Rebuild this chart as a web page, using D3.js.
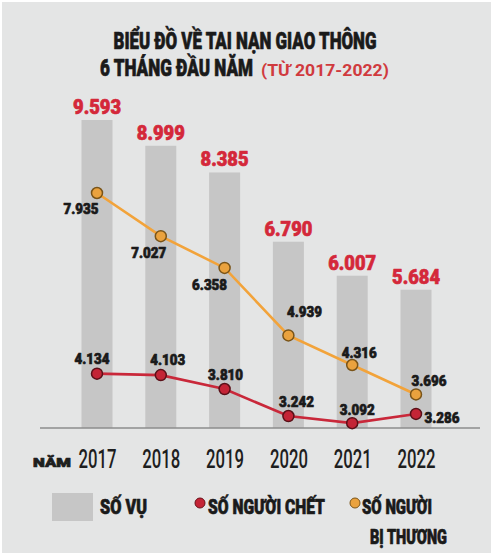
<!DOCTYPE html>
<html>
<head>
<meta charset="utf-8">
<script src="https://cdn.jsdelivr.net/npm/d3@7"></script>
<style>
  html, body { margin: 0; padding: 0; background: #fff; }
  svg { display: block; }
  text { font-family: Roboto, "DejaVu Sans", sans-serif; font-weight: 900; }
  .heavy { stroke-width: 0.7px; stroke-linejoin: round; }
</style>
</head>
<body>
<script>
// data
const years = ["2017", "2018", "2019", "2020", "2021", "2022"];
const soVu = [9593, 8999, 8385, 6790, 6007, 5684];        // số vụ (bars)
const soNguoiChet = [4134, 4103, 3810, 3242, 3092, 3286]; // số người chết
const soBiThuong = [7935, 7027, 6358, 4939, 4316, 3696];  // số người bị thương

const width = 493, height = 555;
const fmt = v => d3.format(",")(v).replace(",", ".");

const svg = d3.select("body").append("svg").attr("width", width).attr("height", height);

// nền
svg.append("rect").attr("x", 2).attr("y", 2).attr("width", width - 4).attr("height", height - 4)
  .attr("fill", "#e4e5e5");

// narrow the text to a given width (the original uses a condensed display font)
function fit(sel, w) {
  sel.each(function () {
    const t = d3.select(this);
    const tx = +t.attr("x") || 0, ty = +t.attr("y") || 0;
    const nat = this.getComputedTextLength();
    t.attr("x", 0).attr("y", 0)
      .attr("transform", "translate(" + tx + "," + ty + ") scale(" + (w / nat) + ",1)");
  });
  return sel;
}
function heavy(sel) {
  return sel.attr("class", "heavy").attr("stroke", function () { return d3.select(this).attr("fill"); });
}

// tiêu đề
heavy(fit(svg.append("text").attr("x", 245).attr("y", 49).attr("text-anchor", "middle")
  .attr("font-size", 24).attr("fill", "#1a1a1a").text("BIỂU ĐỒ VỀ TAI NẠN GIAO THÔNG"), 263));
heavy(fit(svg.append("text").attr("x", 100).attr("y", 76)
  .attr("font-size", 23).attr("fill", "#1a1a1a").text("6 THÁNG ĐẦU NĂM"), 153));
fit(svg.append("text").attr("x", 261).attr("y", 76)
  .attr("font-size", 16).attr("fill", "#d03a3e").style("font-weight", 700).text("(TỪ 2017-2022)"), 128);

// scales
const x = d3.scalePoint().domain(years).range([97, 416]);
const barW = 31;
const baseY = 428;
const yBar = d3.scaleLinear().domain([2500, 9593]).range([baseY, 120]);
const yLine = d3.scaleLinear().domain([2990, 7935]).range([baseY, 193]);

// cột số vụ
svg.append("g").selectAll("rect").data(soVu).enter().append("rect")
  .attr("x", (d, i) => x(years[i]) - barW / 2)
  .attr("y", d => yBar(d))
  .attr("width", barW)
  .attr("height", d => baseY - yBar(d))
  .attr("fill", "#c6c6c6");

heavy(fit(svg.append("g").selectAll("text").data(soVu).enter().append("text")
  .attr("x", (d, i) => x(years[i]))
  .attr("y", d => yBar(d) - 6)
  .attr("text-anchor", "middle")
  .attr("font-size", 21)
  .attr("fill", "#d4283a")
  .text(d => fmt(d)), 48));

// trục
const xAxis = svg.append("g").attr("transform", "translate(0," + baseY + ")")
  .call(d3.axisBottom(x).tickSize(0).tickPadding(0));
xAxis.select(".domain").remove();
svg.append("line").attr("x1", 40).attr("x2", 480).attr("y1", baseY).attr("y2", baseY)
  .attr("stroke", "#8c8c8c").attr("stroke-width", 1.5);
fit(xAxis.selectAll("text")
  .attr("y", 40).attr("dy", null)
  .attr("font-size", 25).attr("fill", "#1e1e1e")
  .style("font-family", "Roboto, sans-serif").style("font-weight", 500), 38);
heavy(fit(svg.append("text").attr("x", 33).attr("y", 467).attr("font-size", 12).attr("fill", "#1e1e1e").text("NĂM"), 38));

// đường
const line = d3.line().x((d, i) => x(years[i])).y(d => yLine(d));

function drawSeries(values, color, dotFill, dotStroke, offsets) {
  svg.append("path").datum(values).attr("d", line)
    .attr("fill", "none").attr("stroke", color).attr("stroke-width", 2.6);
  svg.append("g").selectAll("circle").data(values).enter().append("circle")
    .attr("cx", (d, i) => x(years[i])).attr("cy", d => yLine(d)).attr("r", 5.5)
    .attr("fill", dotFill).attr("stroke", dotStroke).attr("stroke-width", 1.5);
  heavy(fit(svg.append("g").selectAll("text").data(values).enter().append("text")
    .attr("x", (d, i) => x(years[i]) + offsets[i][0])
    .attr("y", (d, i) => yLine(d) + offsets[i][1])
    .attr("text-anchor", "middle")
    .attr("font-size", 15).attr("fill", "#1a1a1a")
    .text(d => fmt(d)), 35));
}

drawSeries(soBiThuong, "#f2a33a", "#eaa23e", "#7a5418",
  [[-16, 21], [-12, 22], [-15, 22], [16, -18], [7, -7], [13, -8]]);
drawSeries(soNguoiChet, "#c9283a", "#c42436", "#5a1018",
  [[-5, -10], [7, -10], [1, -9], [8, -9], [5, -8], [26, 9]]);

// chú thích
const lg = svg.append("g");
lg.append("rect").attr("x", 52).attr("y", 493).attr("width", 41).attr("height", 28).attr("fill", "#c6c6c6");
lg.append("circle").attr("cx", 200).attr("cy", 503).attr("r", 5).attr("fill", "#c42436").attr("stroke", "#6a1018");
lg.append("circle").attr("cx", 355).attr("cy", 503).attr("r", 5).attr("fill", "#eaa23e").attr("stroke", "#7a5418");
heavy(fit(lg.append("text").attr("x", 100).attr("y", 514).attr("font-size", 20).attr("fill", "#1a1a1a").text("SỐ VỤ"), 47));
heavy(fit(lg.append("text").attr("x", 208).attr("y", 514).attr("font-size", 20).attr("fill", "#1a1a1a").text("SỐ NGƯỜI CHẾT"), 117));
heavy(fit(lg.append("text").attr("x", 362).attr("y", 514).attr("font-size", 20).attr("fill", "#1a1a1a").text("SỐ NGƯỜI"), 70));
heavy(fit(lg.append("text").attr("x", 370).attr("y", 544).attr("font-size", 20).attr("fill", "#1a1a1a").text("BỊ THƯƠNG"), 77));
</script>
</body>
</html>
